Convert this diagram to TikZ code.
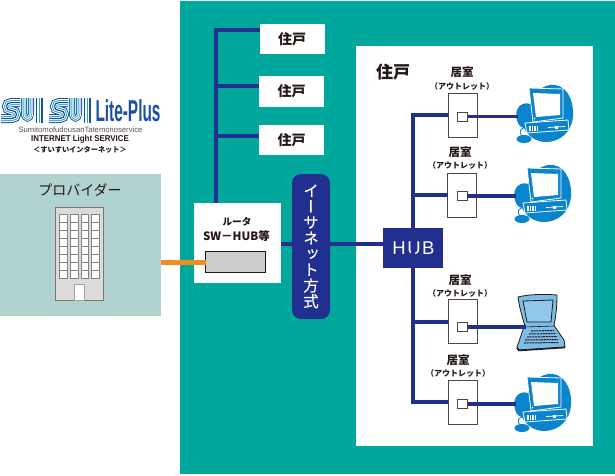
\documentclass[tikz,border=0pt]{standalone}
\usepackage{fontspec}
\setmainfont{Liberation Sans}
\newfontfamily\cjk{Noto Sans CJK JP}
\newfontfamily\cjkv{Noto Sans CJK JP}[RawFeature={+vert},FakeBold=0.5]
\usetikzlibrary{calc}
\definecolor{teal1}{HTML}{00A79D}
\definecolor{wire}{HTML}{21308E}
\definecolor{prov}{HTML}{B0D3CF}
\definecolor{ink}{HTML}{231815}
\definecolor{pcblue}{HTML}{0A84CC}
\definecolor{lapblue}{HTML}{7CBEE8}
\definecolor{logob}{HTML}{1C4FA8}
\definecolor{logot}{HTML}{27ACB8}
\definecolor{orng}{HTML}{F18D1E}
\tikzset{
  x=1pt,y=-1pt,
  fs/.style={font=\cjk\bfseries\fontsize{#1}{#1}\selectfont},
  wireline/.style={draw=wire,line width=4pt,miter limit=10},
  whitebox/.style={fill=white,draw=none,inner sep=0,outer sep=0},
  outlet/.style={fill=white,draw=ink!80,line width=.7pt,minimum width=29pt,minimum height=44pt,inner sep=0,outer sep=0},
  jack/.style={fill=white,draw=ink!80,line width=.8pt,minimum width=10pt,minimum height=9pt,inner sep=0,outer sep=0},
  room/.style={fs=11.5,text=ink,inner sep=0},
  rsub/.style={fs=8,text=ink,inner sep=0},
  pc/.pic={
    \coordinate (-w) at (8,36);
    \fill[pcblue] (40,5) .. controls (55,3) and (64,18) .. (63,36) .. controls (62,52) and (50,62) .. (36,62)
      .. controls (26,62) and (18,56) .. (14,48) .. controls (7,47) and (5,36) .. (7,30) .. controls (9,24) and (16,22) .. (20,24)
      .. controls (22,14) and (30,7) .. (40,5) -- cycle;
    \fill[pcblue] (14,59) ellipse [x radius=7.5,y radius=4];
    \draw[pcblue,line width=.8] (12,56) .. controls (8,52) and (11,48) .. (16,47);
    \draw[white,line width=.8,fill=pcblue] (19,8) -- (53,9) -- (53,38) -- (23,42) -- cycle;
    \fill[white] (23,13) -- (50,14) -- (50,35) -- (26,37) -- cycle;
    \fill[white] (24.5,38.5) circle (.8);
    \draw[white,line width=.8,fill=pcblue] (15,43) -- (58,40) -- (59,50) -- (17,53) -- cycle;
    \foreach \i in {20,22.5,25,27.5} \draw[white,line width=1.1] (\i,46) -- (\i,51);
    \draw[white,line width=.8] (38,47.5) -- (55,46.5);
    \fill[white] (44.5,45.5) rectangle +(3,3);
  },
  lap/.pic={
    \coordinate (-w) at (16,36);
    \fill[lapblue,draw=ink,line width=.8] (8,7) .. controls (20,4) and (35,4) .. (47,5) .. controls (47,16) and (46,26) .. (44,35)
      -- (45,37) -- (54,50) -- (55,57) -- (9,60) -- (7,57) -- (14,37) -- (15,36) .. controls (12,26) and (9,16) .. (8,7) -- cycle;
    \draw[ink,line width=.8,fill=lapblue!85!white] (13,11) -- (43,10) -- (41,32) -- (17,32) -- cycle;
    \draw[ink,line width=.6] (14,37) -- (44,36);
    \foreach \y/\a/\b in {41/21/44,44/19/46,47/17/47,50/15/48,53/14/49}
      \draw[ink,line width=1,dash pattern=on 2pt off .7pt] (\a,\y) -- (\b,\y-.5);
    \draw[ink,line width=1.5] (7,58) -- (9,60.5) -- (55,57.5);
  },
}
\begin{document}
\begin{tikzpicture}
\useasboundingbox (0,0) rectangle (615,475);
\fill[white] (0,0) rectangle (615,475);
% backgrounds
\fill[teal1] (180,1) rectangle (614.5,474);
\fill[white] (356,46) rectangle (593,446);
\fill[prov] (0,174) rectangle (161,316);
% logo
\foreach \dx in {0,48}{
  \begin{scope}[xshift=\dx pt]
  \foreach \w/\c in {9/logob,7/white,5/logot,3/white,1.2/logob}{
    \draw[\c,line width=\w pt] (20,102.5) -- (11,102.5) .. controls (5,102.5) and (5,110.5) .. (11,110.5) -- (12,110.5) .. controls (18,110.5) and (18,118.5) .. (12,118.5) -- (1,118.5);
  }
  \foreach \w/\c in {6/logob,4.2/white,2.6/logot,1/white}{
    \draw[\c,line width=\w pt] (24,98) -- (24,113) .. controls (24,120.5) and (31,120.5) .. (31,113) -- (31,98);
  }
  \draw[logob,line width=1.6pt] (36.5,98) -- (36.5,123);
  \draw[logot,line width=1.6pt] (39.5,98) -- (39.5,123);
  \draw[logob,line width=1.2pt] (42,98) -- (42,123);
  \end{scope}
}
\node[inner sep=0,text=logob] (lp) at (128,111) {\scalebox{.57}[1.12]{\fontsize{27}{27}\selectfont\bfseries Lite-Plus}};
\node[inner sep=0,text=ink!75] (ls) at (80.5,130) {\fontsize{7.65}{8}\selectfont SumitomofudousanTatemonoservice};
\node[inner sep=0,text=ink] (li) at (80,139) {\scalebox{.93}[1]{\fontsize{8.5}{9}\selectfont\bfseries INTERNET Light SERVICE}};
\node[fs=7.2,text=ink,inner sep=0] (lj) at (80,150) {＜すいすいインターネット＞};
% provider
\node[inner sep=0,text=ink] (pv) at (80,190) {\cjk\fontsize{14}{14}\selectfont プロバイダー};
\fill[gray!28,draw=ink!60,line width=.7] (55,207) rectangle (103,300);
\foreach \x in {59.5,70.5,81,91.5}{
  \foreach \r in {0,...,7}{
    \fill[white,draw=ink!55,line width=.4] (\x,214.5+\r*8) rectangle +(7.4,7.8);
  }
}
\fill[white,draw=ink!40,line width=.4] (74,284) rectangle (84,300);
% node boxes
\node[whitebox,minimum width=65pt,minimum height=30pt,fs=14,text=ink] (h1) at (292,39) {住戸};
\node[whitebox,minimum width=65pt,minimum height=31pt,fs=14,text=ink] (h2) at (291.5,91.5) {住戸};
\node[whitebox,minimum width=65pt,minimum height=30pt,fs=14,text=ink] (h3) at (291.5,140) {住戸};
\node[whitebox,minimum width=87pt,minimum height=80pt] (rt) at (237.5,243) {};
\node[fs=9.6,text=ink,inner sep=0] (rt1) at (237,222) {ルータ};
\node[fs=11.5,text=ink,inner sep=0] (rt2) at (236.5,236) {SW－HUB等};
\node[fill=gray!40,draw=ink,line width=.8pt,minimum width=60pt,minimum height=21pt,inner sep=0,outer sep=0] (sw) at (235.5,261.5) {};
\node[fs=17,text=ink,inner sep=0] (lbl) at (393,72) {住戸};
\node[fill=wire,minimum width=60pt,minimum height=40pt,inner sep=0,outer sep=0,text=white] (hub) at (413,248) {\hspace{1pt}\fontsize{18.5}{18.5}\selectfont\addfontfeature{LetterSpace=8}HUB};
% connectors
\coordinate (t0) at (216,29.5);
\coordinate (t1) at (216,85.5);
\coordinate (t2) at (216,135.5);
\coordinate (t3) at (216,203);
\draw[wireline] (h1.west |- t0) -- (t0) -- (t3);
\draw[wireline] (t1) -- (h2.west |- t1);
\draw[wireline] (t2) -- (h3.west |- t2);
\draw[orng,line width=5pt] (161,262) -- (sw.west |- 0,262);
\coordinate (e) at (300,244);
\draw[wireline] (rt.east |- e) -- (hub.west |- e);
\node[fill=wire,rounded corners=9pt,minimum width=38pt,minimum height=145pt,inner sep=0,outer sep=0,text=white,align=center,font=\cjkv\fontsize{15.5}{15.8}\selectfont] (eth) at (311,246.5)
 {イ\\ー\\サ\\ネ\\ッ\\ト\\方\\式};
% outlets
\node[outlet] (o1) at (462.5,115) {};
\node[outlet] (o2) at (462,195) {};
\node[outlet] (o3) at (462.5,321.5) {};
\node[outlet] (o4) at (462.5,402) {};
\node[jack] (s1) at (462.5,116.5) {};
\node[jack] (s2) at (462,196) {};
\node[jack] (s3) at (462.5,327) {};
\node[jack] (s4) at (462.5,404) {};
\coordinate (j1) at (413,115);
\coordinate (j2) at (413,195);
\coordinate (j3) at (413,322);
\coordinate (j4) at (413,402);
\draw[wireline] (o1.west |- j1) -- (j1) -- (j4) -- (o4.west |- j4);
\draw[wireline] (j2) -- (o2.west |- j2);
\draw[wireline] (j3) -- (o3.west |- j3);
\node[room] (r1) at (462,72) {居室};
\node[rsub] (q1) at (462,86) {（アウトレット）};
\node[room] (r2) at (460,152) {居室};
\node[rsub] (q2) at (460,165) {（アウトレット）};
\node[room] (r3) at (460,280) {居室};
\node[rsub] (q3) at (460,293) {（アウトレット）};
\node[room] (r4) at (458,360) {居室};
\node[rsub] (q4) at (458,373) {（アウトレット）};
% terminals
\pic (c1) at (510,80) {pc};
\pic (c2) at (508,160) {pc};
\pic (c3) at (510,290) {lap};
\pic (c4) at (508,369) {pc};
\draw[wireline,line width=3.6pt] (s1.east) -- (c1-w |- s1);
\draw[wireline,line width=3.6pt] (s2.east) -- (c2-w |- s2);
\draw[wireline,line width=3.6pt] (s3.east) -- (c3-w |- s3);
\draw[wireline,line width=3.6pt] (s4.east) -- (c4-w |- s4);
\end{tikzpicture}
\end{document}
